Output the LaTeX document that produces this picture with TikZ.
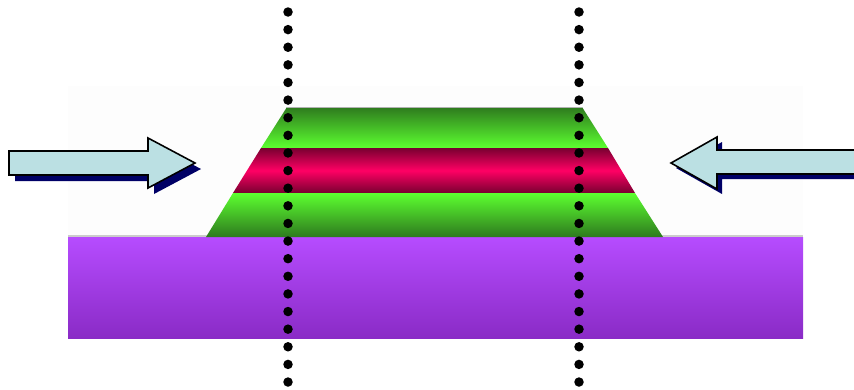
\documentclass[tikz,border=0pt]{standalone}
\usepackage{tikz}
\usetikzlibrary{calc}
\usepackage{xcolor}
\definecolor{layergreen}{HTML}{5CFF30}
\definecolor{layerdkgreen}{HTML}{2E7A1E}
\definecolor{layerred}{HTML}{FF0064}
\definecolor{layerdkred}{HTML}{780030}
\definecolor{substop}{HTML}{B64CFF}
\definecolor{subsbot}{HTML}{8A2BC6}
\definecolor{arrowblue}{HTML}{BBE0E3}
\definecolor{arrownavy}{HTML}{000066}
\definecolor{faintbg}{HTML}{FDFDFD}

\tikzset{
  blockarrow/.style={fill=arrowblue, draw=black, line width=0.9pt, line join=miter},
  arrowshadow/.style={fill=arrownavy},
  cutdot/.style={fill=black}
}

\begin{document}
\begin{tikzpicture}[x=0.02cm, y=-0.02cm]
\useasboundingbox (0,0) rectangle (854,389);
\clip (0,0) rectangle (854,389);
% faint backdrop and substrate
\fill[faintbg] (68,86) rectangle (803,237);
\shade[top color=substop, bottom color=subsbot] (68,237) rectangle (803,338);
\draw[gray!40, line width=0.6pt] (68,236) -- (803,236);
% layer stack
\shade[top color=layerdkgreen, bottom color=layergreen] (287,107) -- (582,107) -- (608,148) -- (261,148) -- cycle;
\shade[top color=layerdkred, bottom color=layerdkred, middle color=layerred] (261,148) -- (608,148) -- (635,193) -- (233,193) -- cycle;
\shade[top color=layergreen, bottom color=layerdkgreen] (233,193) -- (635,193) -- (663,237) -- (206,237) -- cycle;
\draw[gray!60, line width=0.4pt] (287,107) -- (582,107);
% left arrow
\fill[arrowshadow, shift={(6,6)}] (9,151) -- (148,151) -- (148,138) -- (195,163) -- (148,188) -- (148,175) -- (9,175) -- cycle;
\draw[blockarrow] (9,151) -- (148,151) -- (148,138) -- (195,163) -- (148,188) -- (148,175) -- (9,175) -- cycle;
% right arrow
\fill[arrowshadow, shift={(5,5)}] (870,150) -- (717,150) -- (717,137) -- (671,163) -- (717,189) -- (717,174) -- (870,174) -- cycle;
\draw[blockarrow] (870,150) -- (717,150) -- (717,137) -- (671,163) -- (717,189) -- (717,174) -- (870,174) -- cycle;
% dotted cut lines
\foreach \xc in {288,579}
  \foreach \i in {0,...,21}
    \fill[cutdot] (\xc,12+17.62*\i) circle[radius=0.095cm];
\end{tikzpicture}
\end{document}
